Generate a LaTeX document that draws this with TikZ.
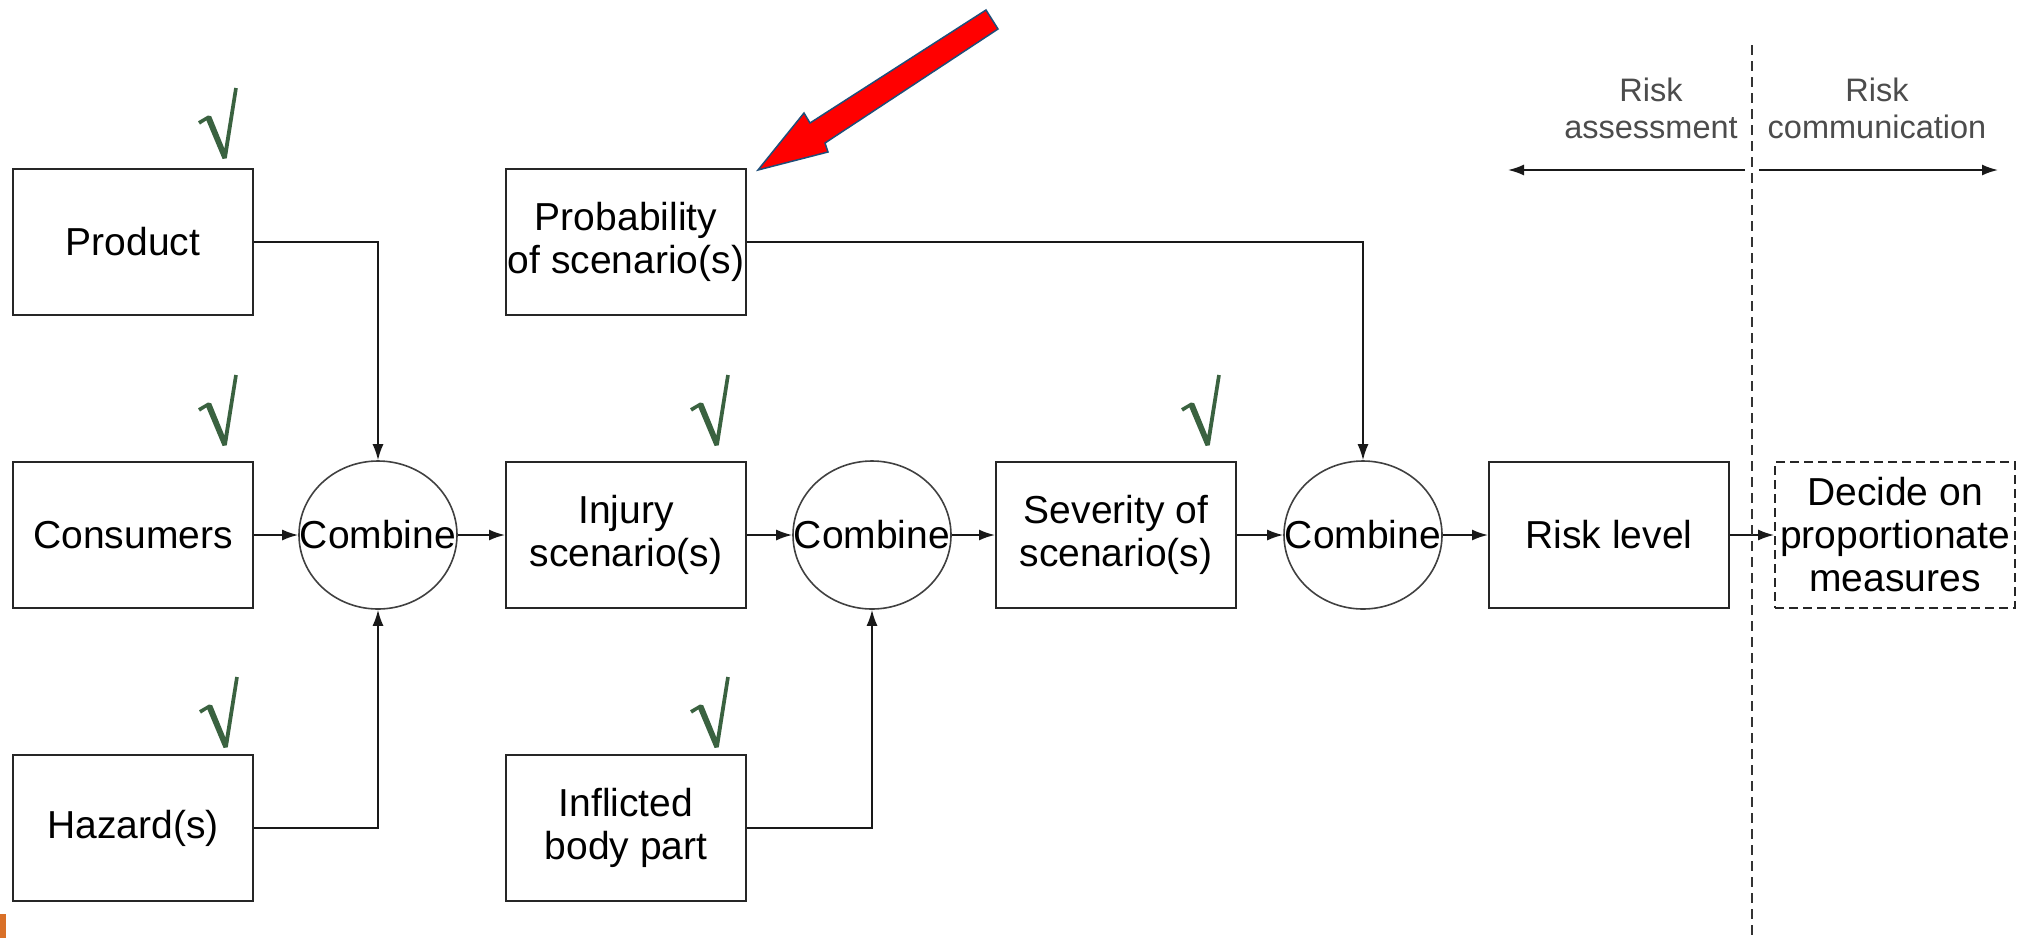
\documentclass[tikz,border=0pt]{standalone}
\usepackage{fontspec}
\setmainfont{Liberation Sans}
\usetikzlibrary{arrows.meta,shapes.geometric}

\definecolor{tickgreen}{RGB}{58,98,64}
\definecolor{pointerred}{RGB}{255,0,0}
\definecolor{pointeredge}{RGB}{31,78,121}
\definecolor{cornermark}{RGB}{217,112,40}

\tikzset{
  mainfont/.style={font=\fontsize{39}{43}\selectfont},
  box/.style={mainfont, draw=black!85, line width=2pt, minimum width=240pt,
    minimum height=146pt, inner sep=0pt, align=center},
  openbox/.style={box, dashed, dash pattern=on 9pt off 5pt, line width=1.8pt},
  combine/.style={mainfont, ellipse, draw=black!75, line width=1.6pt,
    minimum width=158pt, minimum height=148pt, inner sep=0pt},
  flow/.style={line width=1.8pt, draw=black!90, -{Latex[length=16pt,width=11pt]}},
  phaselabel/.style={font=\fontsize{32.5}{37}\selectfont, text=black!70, align=center},
  divider/.style={line width=1.8pt, draw=black!80, dash pattern=on 10pt off 6pt},
  donemark/.pic={
    \fill[tickgreen] (-25,-33.5) -- (-27,-36.7) -- (-17,-42.5) -- (-13.8,-41.8)
      -- (-0.6,-9.5) -- (9.2,-70.3) -- (12.8,-69.7) -- (1.8,0.3) -- (-2.4,1.0)
      -- (-18.6,-37.6) -- cycle;
  }
}

\begin{document}
\begin{tikzpicture}[x=1pt,y=-1pt]
  \useasboundingbox (0,0) rectangle (2023,938);

  % input boxes
  \node[box] (prod) at (133,242) {Product};
  \node[box] (cons) at (133,535) {Consumers};
  \node[box] (haz)  at (133,828) {Hazard(s)};
  \node[box] (prob) at (626,242) {Probability\\of scenario(s)};
  \node[box] (inj)  at (626,535) {Injury\\scenario(s)};
  \node[box] (inf)  at (626,828) {Inflicted\\body part};
  \node[box] (sev)  at (1116,535) {Severity of\\scenario(s)};
  \node[box] (risk) at (1609,535) {Risk level};
  \node[openbox] (decide) at (1895,535) {Decide on\\proportionate\\measures};

  % combination steps
  \node[combine] (c1) at (378,535) {\makebox[0pt]{Combine}};
  \node[combine] (c2) at (872,535) {\makebox[0pt]{Combine}};
  \node[combine] (c3) at (1363,535) {\makebox[0pt]{Combine}};

  % flow
  \draw[flow] (cons) -- (c1);
  \draw[flow] (prod.east) -| (c1.north);
  \draw[flow] (haz.east) -| (c1.south);
  \draw[flow] (c1) -- (inj);
  \draw[flow] (inj) -- (c2);
  \draw[flow] (inf.east) -| (c2.south);
  \draw[flow] (c2) -- (sev);
  \draw[flow] (sev) -- (c3);
  \draw[flow] (prob.east) -| (c3.north);
  \draw[flow] (c3) -- (risk);
  \draw[flow] (risk) -- (decide);

  % assessment / communication split
  \coordinate (divtop) at (1752,45);
  \coordinate (divbot) at (1752,938);
  \draw[divider] (divtop) -- (divbot);
  \node[phaselabel] (assess) at (1651,108) {Risk\\assessment};
  \node[phaselabel] (comm) at (1877,108) {Risk\\communication};
  \coordinate (splitL) at (1745,170);
  \coordinate (assessEnd) at (1508,170);
  \coordinate (splitR) at (1759,170);
  \coordinate (commEnd) at (1998,170);
  \draw[flow] (splitL) -- (assessEnd);
  \draw[flow] (splitR) -- (commEnd);

  % done marks
  \pic at (225,158) {donemark};
  \pic at (225,445) {donemark};
  \pic at (226,747) {donemark};
  \pic at (717,445) {donemark};
  \pic at (717,747) {donemark};
  \pic at (1208,445) {donemark};

  % pointer at the probability box
  \filldraw[fill=pointerred, draw=pointeredge, line width=1.5pt, line join=miter]
    (758,170) -- (804,113) -- (810,123) -- (986,10) -- (998,29)
    -- (825,143) -- (828,152) -- cycle;

  % corner mark
  \fill[cornermark] (0,914) rectangle (6,938);
\end{tikzpicture}
\end{document}
